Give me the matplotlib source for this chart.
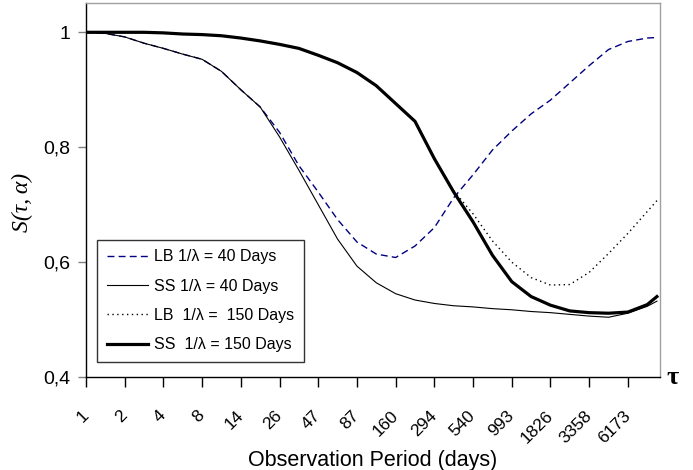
import matplotlib
matplotlib.use("Agg")
import matplotlib.pyplot as plt

# Category positions (index along the evenly spaced category axis)
x_pos = [0, 0.5, 1, 1.5, 2, 2.5, 3, 3.5, 4, 4.5, 5, 5.5, 6, 6.5, 7, 7.5,
         8, 8.5, 9, 9.5, 10, 10.5, 11, 11.5, 12, 12.5, 13, 13.5, 14, 14.5, 14.75]

tick_labels = ["1", "2", "4", "8", "14", "26", "47", "87", "160", "294",
               "540", "993", "1826", "3358", "6173"]

ss40 = [1.0, 0.998, 0.992, 0.981, 0.972, 0.962, 0.953, 0.932, 0.900, 0.870,
        0.818, 0.760, 0.700, 0.640, 0.593, 0.564, 0.545, 0.534, 0.528, 0.524,
        0.522, 0.519, 0.517, 0.514, 0.512, 0.509, 0.506, 0.504, 0.511, 0.523, 0.532]

lb40 = [1.0, 0.998, 0.992, 0.981, 0.972, 0.962, 0.953, 0.932, 0.900, 0.870,
        0.826, 0.768, 0.722, 0.674, 0.635, 0.614, 0.608, 0.628, 0.660, 0.712,
        0.752, 0.795, 0.828, 0.858, 0.882, 0.912, 0.942, 0.970, 0.984, 0.990, 0.991]

ss150 = [1.0, 1.0, 1.0, 1.0, 0.999, 0.997, 0.996, 0.994, 0.990, 0.985,
         0.979, 0.972, 0.960, 0.947, 0.930, 0.907, 0.876, 0.845, 0.780, 0.722,
         0.670, 0.612, 0.566, 0.540, 0.525, 0.515, 0.512, 0.511, 0.513, 0.526, 0.540]

lb150 = [1.0, 1.0, 1.0, 1.0, 0.999, 0.997, 0.996, 0.994, 0.990, 0.985,
         0.979, 0.972, 0.960, 0.947, 0.930, 0.907, 0.876, 0.845, 0.780, 0.724,
         0.684, 0.637, 0.600, 0.573, 0.560, 0.561, 0.582, 0.615, 0.650, 0.688, 0.707]

labels = ["LB 1/\u03bb = 40 Days", "SS 1/\u03bb = 40 Days",
          "LB  1/\u03bb =  150 Days", "SS  1/\u03bb = 150 Days"]

plt.rcParams['font.family'] = ['Liberation Sans', 'DejaVu Sans']

fig = plt.figure(figsize=(6.93, 4.70), dpi=100)
ax = fig.add_axes([86/693, 1 - 377/470, (660 - 86)/693, (377 - 3)/470])

l1, = ax.plot(x_pos, lb40, color='#000080', lw=1.0, ls=(0, (5, 3)))
l2, = ax.plot(x_pos, ss40, color='black', lw=0.8)
l3, = ax.plot(x_pos, lb150, color='black', lw=1.0, ls=(0, (1, 2.5)))
l4, = ax.plot(x_pos, ss150, color='black', lw=2.3)

ax.set_xlim(0, 14.83)
ax.set_ylim(0.4, 1.051)

ax.set_yticks([0.4, 0.6, 0.8, 1.0])
ax.set_yticklabels(["0,4", "0,6", "0,8", "1"], fontsize=14)
ax.set_xticks(range(len(tick_labels)))
ax.set_xticklabels(tick_labels, fontsize=12.5, rotation=45, ha='right',
                   va='center', rotation_mode='anchor')
ax.tick_params(axis='x', direction='out', length=7, width=1, pad=19, color='black')
ax.tick_params(axis='y', direction='out', length=6, width=1, pad=5, color='#808080')

for s in ['top', 'right']:
    ax.spines[s].set_color('#a0a0a0')
    ax.spines[s].set_linewidth(1.0)
for s in ['left', 'bottom']:
    ax.spines[s].set_color('black')
    ax.spines[s].set_linewidth(1.0)

ax.set_xlabel("Observation Period (days)", fontsize=15.5, labelpad=3)

fig.text(22/693, 1 - 202/470, "S(\u03c4,\u2009\u03b1)", fontsize=17, style='italic',
         family=['Liberation Serif', 'DejaVu Serif'], rotation=90,
         ha='center', va='center')

fig.text(666/693, 1 - 378/470, "\u03c4", fontsize=19, fontweight='bold',
         family='Liberation Serif', ha='left', va='center')

leg = ax.legend([l1, l2, l3, l4], labels, loc='lower left',
                bbox_to_anchor=((97 - 86)/574, (377 - 362)/374),
                fontsize=11.5, frameon=True, fancybox=False, edgecolor='black',
                handlelength=2.6, handletextpad=0.4, labelspacing=0.9,
                borderpad=0.6, borderaxespad=0)
leg.get_frame().set_linewidth(1.0)

fig.savefig("out.png", dpi=100)
